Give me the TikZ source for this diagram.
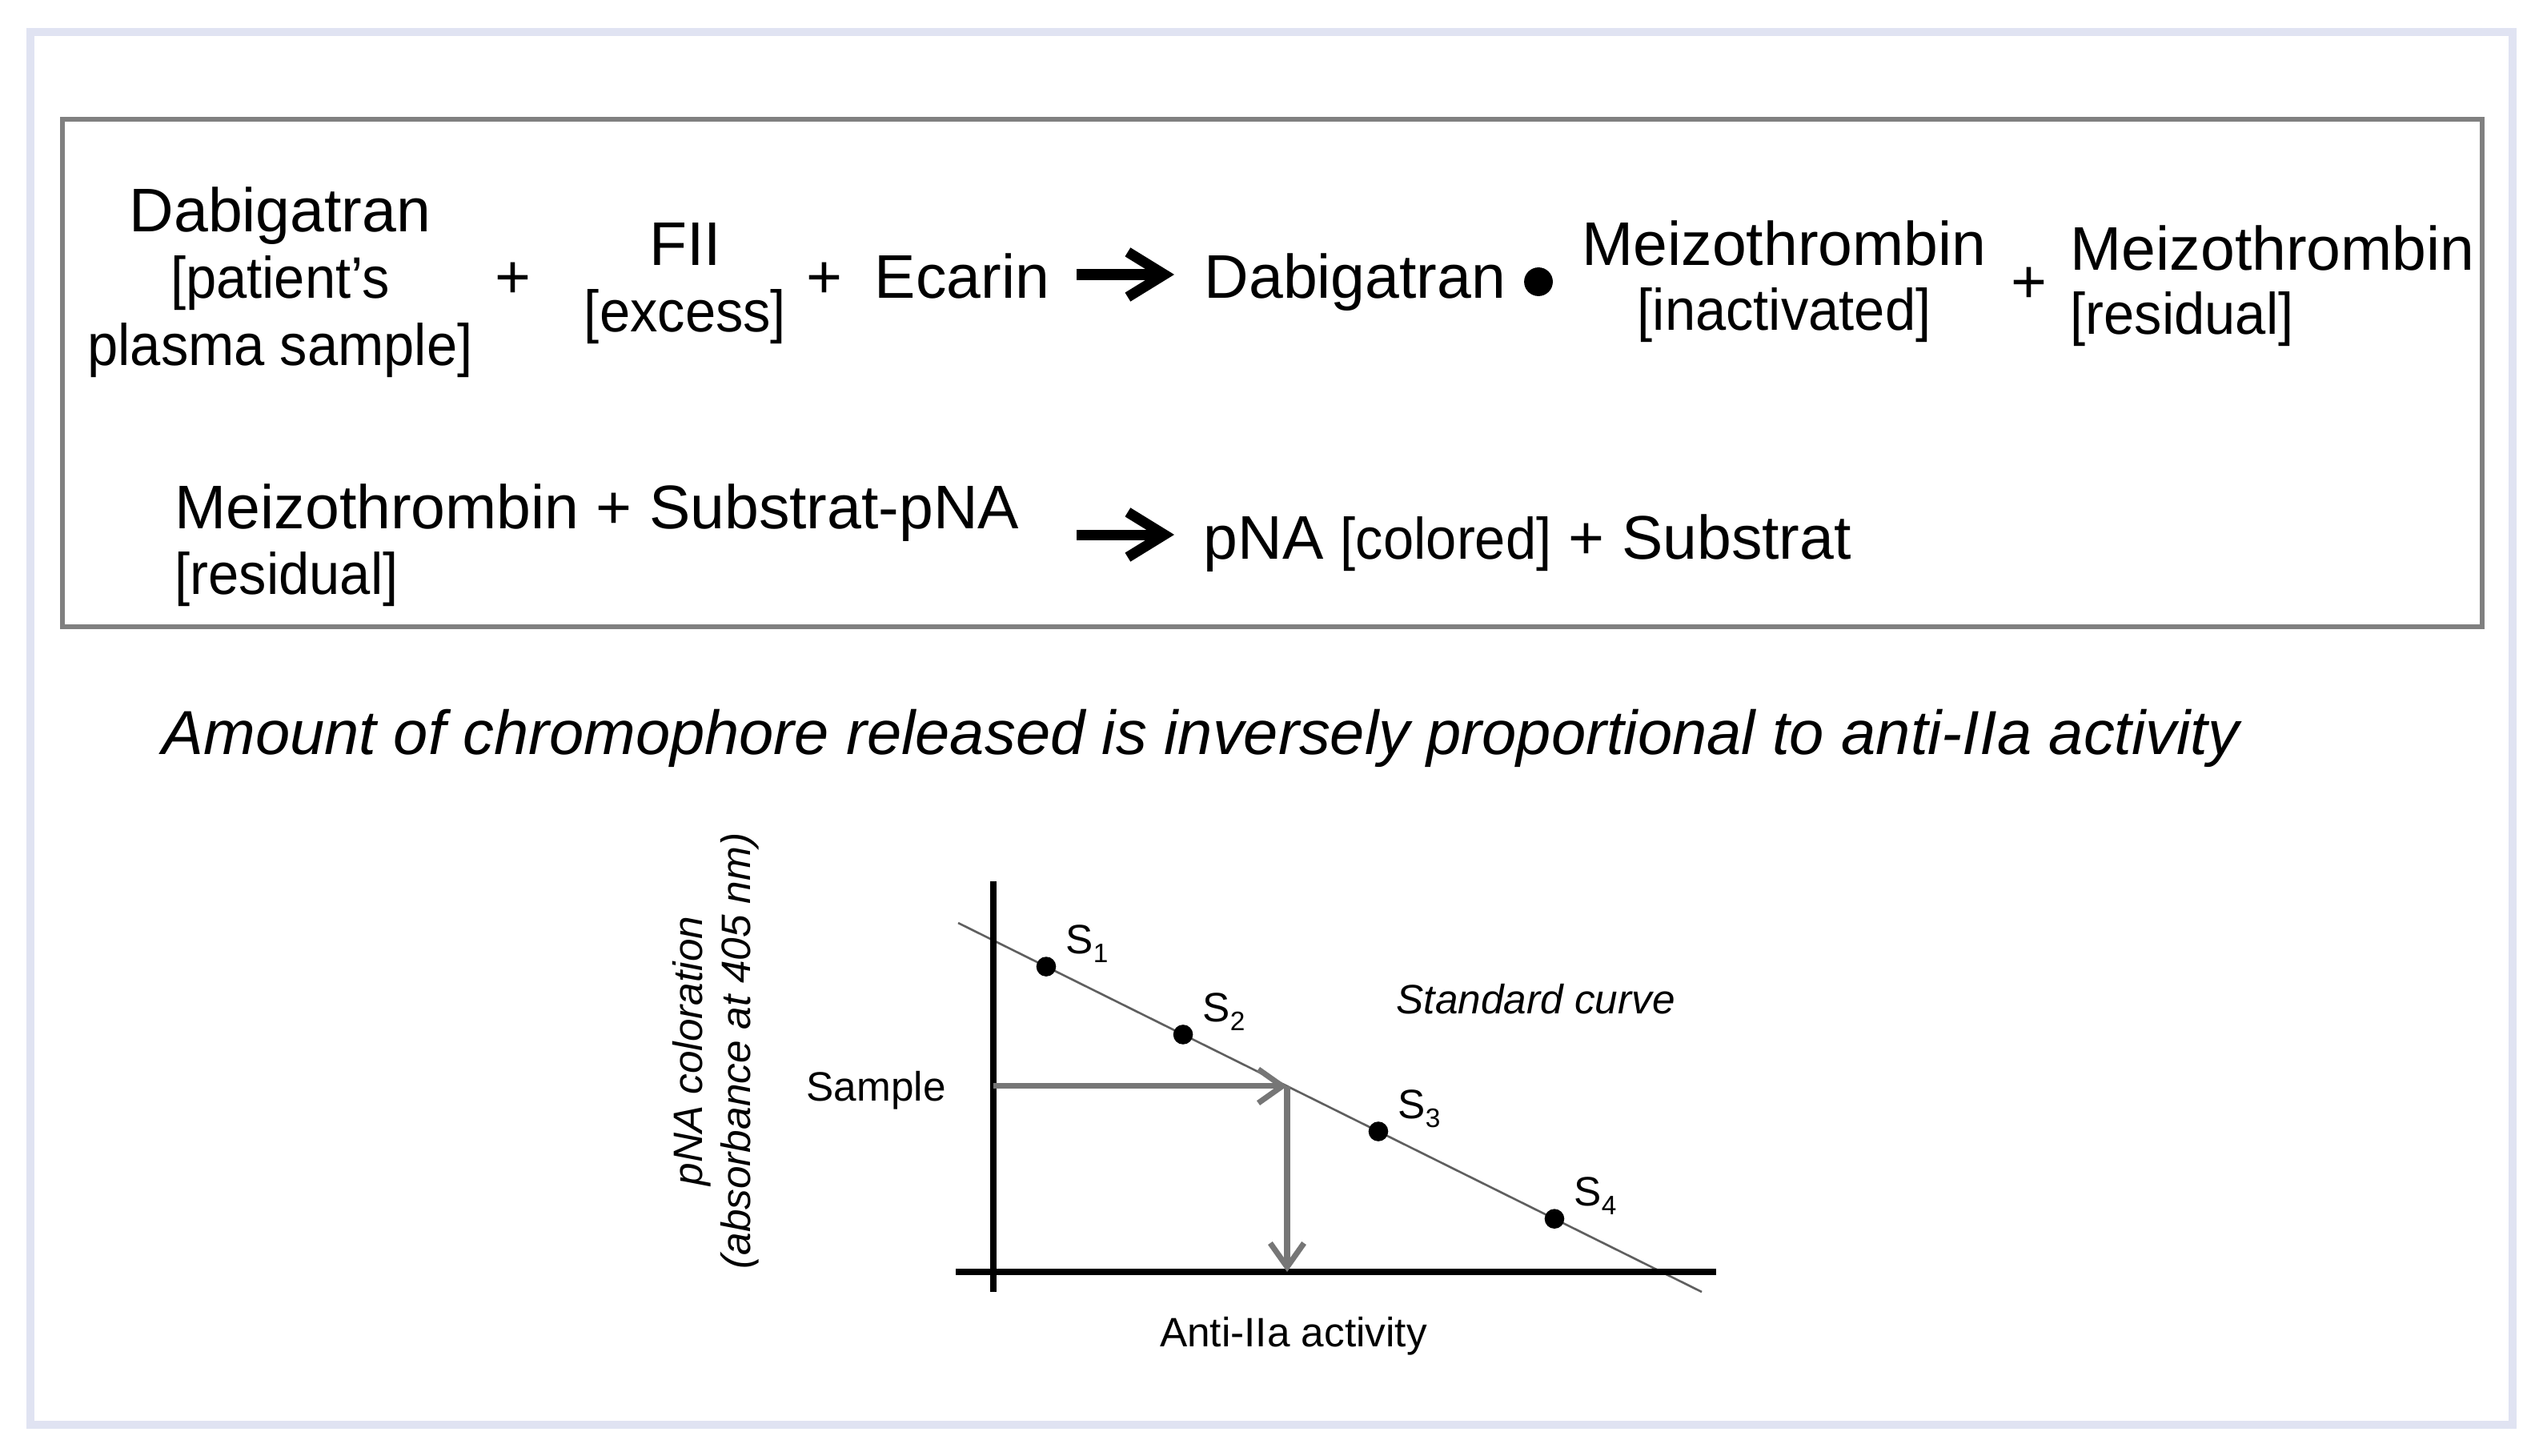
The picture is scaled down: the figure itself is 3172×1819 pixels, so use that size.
\documentclass[tikz,border=0pt]{standalone}
\usepackage{fontspec}
\setmainfont{Liberation Sans}
\newfontfamily\condfont{Liberation Sans}[FakeStretch=0.94]
\usetikzlibrary{arrows.meta,calc}
\definecolor{framecol}{RGB}{224,227,242}
\definecolor{boxgray}{RGB}{128,128,128}
\definecolor{arrgray}{RGB}{118,118,118}
\definecolor{curvegray}{RGB}{95,95,95}
\newcommand{\subS}[1]{S\raisebox{-3.1pt}{\fontsize{9.5}{10}\selectfont #1}}
\newcommand{\brk}[1]{{\condfont\fontsize{20.8}{24}\selectfont #1}}
\begin{document}
\begin{tikzpicture}[x=0.2845pt,y=-0.2845pt,
  big/.style={font=\fontsize{21.9}{24}\selectfont, inner sep=0pt, anchor=base},
  bigw/.style={big, anchor=base west},
  small/.style={font=\fontsize{14.6}{17}\selectfont, inner sep=0pt, anchor=base west},
  dotnode/.style={circle, fill=black, inner sep=0pt, minimum size=7pt},
  rxnarrow/.style={line width=3.7pt, -{Straight Barb[length=13pt,width=16pt]}},
  grayarrow/.style={draw=arrgray, line width=2pt, -{Straight Barb[length=8.5pt,width=12pt]}},
  axisline/.style={line width=2.4pt},
]
\useasboundingbox (0,0) rectangle (3172,1819);
% outer frame and inner box
\draw[framecol, line width=2.85pt] (38,40) rectangle (3139,1780);
\draw[boxgray, line width=1.7pt] (78,149) rectangle (3101,783);

% ---------- reaction 1 ----------
\node[big] (d1) at (350,290) {Dabigatran};
\node[big] (d2) at (350,373) {\brk{[patient’s}};
\node[big] (d3) at (350,456) {\brk{plasma sample]}};
\node[big] (p1) at (641,373) {+};
\node[big] (f1) at (856,332) {FII};
\node[big] (f2) at (856,415) {\brk{[excess]}};
\node[big] (p2) at (1030,373) {+};
\node[big] (ec) at (1202,373) {Ecarin};
\coordinate (r1a) at (1345,343);
\coordinate (r1b) at (1467,343);
\draw[rxnarrow] (r1a) -- (r1b);
\node[bigw] (db) at (1504,373) {Dabigatran};
\node[dotnode, minimum size=10.2pt] (bul) at (1922,352) {};
\node[big] (m1) at (2229,332) {Meizothrombin};
\node[big] (m2) at (2229,413) {\brk{[inactivated]}};
\node[big] (p3) at (2535,378) {+};
\node[bigw] (m3) at (2586,338) {Meizothrombin};
\node[bigw] (m4) at (2586,418) {\brk{[residual]}};

% ---------- reaction 2 ----------
\node[bigw] (q1) at (218,660) {Meizothrombin + Substrat-pNA};
\node[bigw] (q2) at (218,742) {\brk{[residual]}};
\coordinate (r2a) at (1345,668);
\coordinate (r2b) at (1467,668);
\draw[rxnarrow] (r2a) -- (r2b);
\node[bigw] (q3) at (1503,698) {pNA \brk{[colored]} + Substrat};

% ---------- statement ----------
\node[bigw, font=\fontsize{22.1}{24}\selectfont\itshape] (stmt) at (202,942)
  {Amount of chromophore released is inversely proportional to anti-IIa activity};

% ---------- graph ----------
\coordinate (ya) at (1241,1101);
\coordinate (yb) at (1241,1614);
\coordinate (xa) at (1194,1589);
\coordinate (xb) at (2144,1589);
\coordinate (c0) at (1197,1153);
\coordinate (c1) at (2126,1614);
\draw[curvegray, line width=0.75pt] (c0) -- (c1);
\draw[axisline] (ya) -- (yb);
\draw[axisline] (xa) -- (xb);

\node[dotnode] (s1) at ($(c0)!0.1184!(c1)$) {};
\node[dotnode] (s2) at ($(c0)!0.3025!(c1)$) {};
\node[dotnode] (s3) at ($(c0)!0.5651!(c1)$) {};
\node[dotnode] (s4) at ($(c0)!0.8019!(c1)$) {};
\node[small] (l1) at ($(s1)+(24,-16)$) {\subS{1}};
\node[small] (l2) at ($(s2)+(24,-16)$) {\subS{2}};
\node[small] (l3) at ($(s3)+(24,-16)$) {\subS{3}};
\node[small] (l4) at ($(s4)+(24,-16)$) {\subS{4}};

\coordinate (hit) at ($(c0)!0.4424!(c1)$);
\coordinate (hy) at (ya |- hit);
\coordinate (hx) at (hit |- xa);
\draw[grayarrow] (hy) -- (hit);
\draw[grayarrow] (hit) -- (hx);

\node[small] (smp) at (1007,1375) {Sample};
\node[small, font=\fontsize{14.6}{17}\selectfont\itshape] (std) at (1744,1266) {Standard curve};
\node[small, anchor=base] (xl) at (1616,1682) {Anti-IIa activity};
\node[font=\fontsize{14.6}{17}\selectfont\itshape, inner sep=0pt, align=center, rotate=90] (yl)
  at (894,1313) {pNA coloration\\(absorbance at 405 nm)};
\end{tikzpicture}
\end{document}
